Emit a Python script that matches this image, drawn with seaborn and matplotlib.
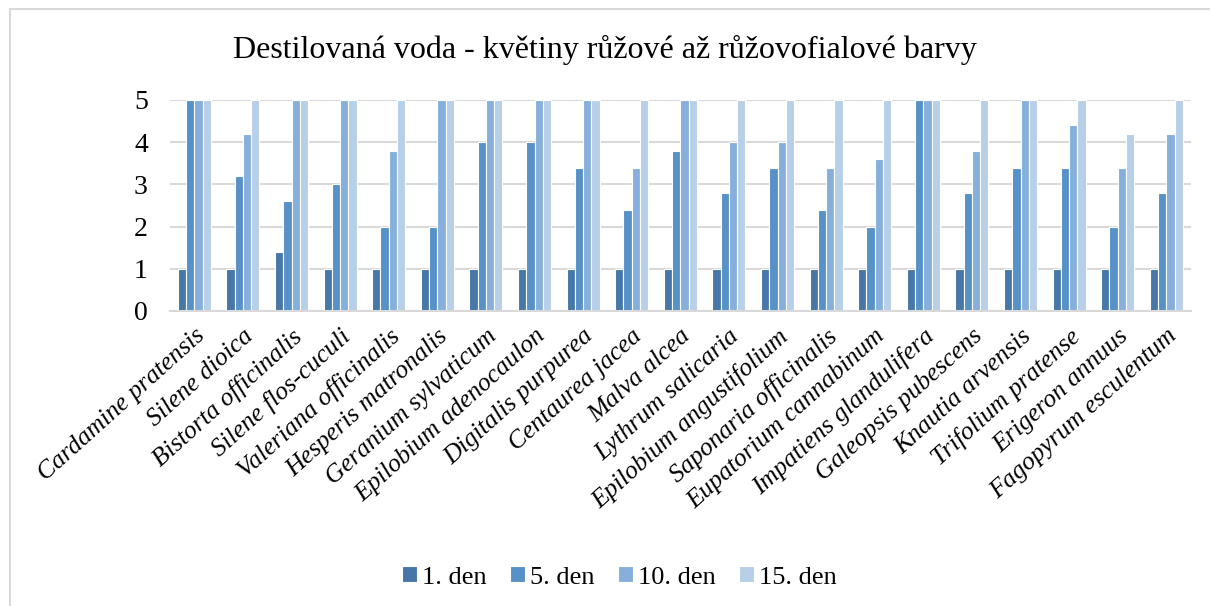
import pandas as pd
import matplotlib
matplotlib.use("Agg")
import matplotlib.pyplot as plt
import seaborn as sns
from matplotlib.patches import Rectangle

# -----------------------------------
# DATA
# -----------------------------------

species = [
    "Cardamine pratensis", "Silene dioica", "Bistorta officinalis",
    "Silene flos-cuculi", "Valeriana officinalis", "Hesperis matronalis",
    "Geranium sylvaticum", "Epilobium adenocaulon", "Digitalis purpurea",
    "Centaurea jacea", "Malva alcea", "Lythrum salicaria",
    "Epilobium angustifolium", "Saponaria officinalis", "Eupatorium cannabinum",
    "Impatiens glandulifera", "Galeopsis pubescens", "Knautia arvensis",
    "Trifolium pratense", "Erigeron annuus", "Fagopyrum esculentum",
]

day_labels = ["1. den", "5. den", "10. den", "15. den"]

day1 = [1, 1, 1.4, 1, 1, 1, 1, 1, 1, 1, 1, 1, 1, 1, 1, 1, 1, 1, 1, 1, 1]
day5 = [5, 3.2, 2.6, 3, 2, 2, 4, 4, 3.4, 2.4, 3.8, 2.8, 3.4, 2.4, 2, 5, 2.8, 3.4, 3.4, 2, 2.8]
day10 = [5, 4.2, 5, 5, 3.8, 5, 5, 5, 5, 3.4, 5, 4, 4, 3.4, 3.6, 5, 3.8, 5, 4.4, 3.4, 4.2]
day15 = [5, 5, 5, 5, 5, 5, 5, 5, 5, 5, 5, 5, 5, 5, 5, 5, 5, 5, 5, 4.2, 5]

colors = ["#4677A8", "#5692C8", "#86B0DB", "#B8CFE8"]

df = pd.DataFrame({
    "species": species * 4,
    "den": [d for d in day_labels for _ in species],
    "value": day1 + day5 + day10 + day15,
})

# -----------------------------------
# PLOT
# -----------------------------------

sns.set_style("white")
plt.rcParams["font.family"] = ["Liberation Serif", "DejaVu Serif"]
plt.rcParams["text.color"] = "black"
plt.rcParams["xtick.color"] = "black"
plt.rcParams["ytick.color"] = "black"

fig = plt.figure(figsize=(12.1, 6.06), dpi=100)
ax = fig.add_axes([0.1405, 0.4868, 0.8435, 0.3482])

sns.barplot(
    data=df,
    x="species",
    y="value",
    hue="den",
    palette=colors,
    saturation=1,
    width=0.68,
    edgecolor="white",
    linewidth=0.8,
    ax=ax,
)

ax.set_ylim(0, 5)
ax.set_yticks([0, 1, 2, 3, 4, 5])
ax.yaxis.grid(True, color="#D9D9D9", linewidth=1.5)
ax.set_axisbelow(True)
for side in ["top", "right", "left"]:
    ax.spines[side].set_visible(False)
ax.spines["bottom"].set_color("#D9D9D9")
ax.spines["bottom"].set_linewidth(1.5)
ax.tick_params(axis="both", length=0)
ax.tick_params(axis="y", labelsize=20, pad=16)
ax.set_xticks(range(len(species)))
ax.set_xticklabels(species, rotation=42, ha="right", rotation_mode="anchor",
                   fontsize=18.5, style="italic")
ax.tick_params(axis="x", pad=10)
ax.set_xlabel("")
ax.set_ylabel("")

fig.text(0.5, 0.917, "Destilovaná voda - květiny růžové až růžovofialové barvy",
         ha="center", va="center", fontsize=23)

ax.legend(
    loc="center",
    bbox_to_anchor=(0.512, 0.047),
    bbox_transform=fig.transFigure,
    ncol=4,
    frameon=False,
    fontsize=19,
    handlelength=0.55,
    handleheight=0.55,
    handletextpad=0.2,
    columnspacing=0.9,
)

# chart border
fig.patches.append(Rectangle((10 / 1210, -0.01), 1.02, 1 - 9 / 606 + 0.01,
                             transform=fig.transFigure, fill=False,
                             edgecolor="#D9D9D9", linewidth=1.5))

fig.savefig("out.png", dpi=100)
